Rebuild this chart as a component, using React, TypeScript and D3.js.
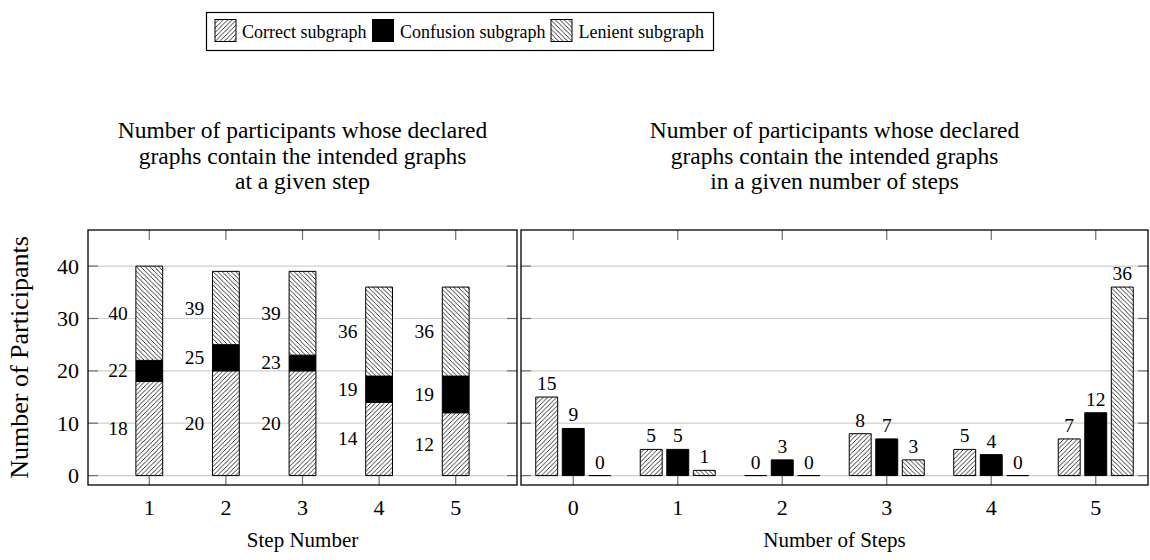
import * as d3 from 'd3';

// left panel: stacked counts per step
const steps = [1, 2, 3, 4, 5];
const stepCorrect = [18, 20, 20, 14, 12];
const stepConfusion = [4, 5, 3, 5, 7];
const stepLenient = [18, 14, 16, 17, 17];

// right panel: grouped counts per number of steps
const numSteps = [0, 1, 2, 3, 4, 5];
const numCorrect = [15, 5, 0, 8, 5, 7];
const numConfusion = [9, 5, 3, 7, 4, 12];
const numLenient = [0, 1, 0, 3, 0, 36];

const yTicks = [0, 10, 20, 30, 40];
const seriesNames = ['Correct subgraph', 'Confusion subgraph', 'Lenient subgraph'];
const leftTitle = [
  'Number of participants whose declared',
  'graphs contain the intended graphs',
  'at a given step',
];
const rightTitle = [
  'Number of participants whose declared',
  'graphs contain the intended graphs',
  'in a given number of steps',
];

const FONT = "'Liberation Serif', 'Times New Roman', serif";
const FILLS = ['url(#hatchNE)', '#000', 'url(#hatchNW)'];
const GRID = '#cfcfcf';
const TICK = '#6e6e6e';

const TOP = 230;
const BOTTOM = 485;
const L = { x0: 88, x1: 517 };
const R = { x0: 521, x1: 1148 };

const y = d3.scaleLinear().domain([-1.8, 46.9]).range([BOTTOM, TOP]);
const xL = d3.scaleLinear().domain([0.2, 5.8]).range([L.x0, L.x1]);
const xR = d3.scaleLinear().domain([-0.5, 5.5]).range([R.x0, R.x1]);

function barPath(xa: number, xb: number, ya: number, yb: number) {
  return `M${xa},${ya}H${xb}V${yb}H${xa}Z`;
}

function Frame({ x0, x1, xs, xScale }: { x0: number; x1: number; xs: number[]; xScale: d3.ScaleLinear<number, number> }) {
  return (
    <g>
      {yTicks.map((t) => (
        <g key={t}>
          <line x1={x0} x2={x1} y1={y(t)} y2={y(t)} stroke={GRID} strokeWidth={1.2} />
          <line x1={x0} x2={x0 + 10} y1={y(t)} y2={y(t)} stroke={TICK} strokeWidth={1.2} />
          <line x1={x1} x2={x1 - 10} y1={y(t)} y2={y(t)} stroke={TICK} strokeWidth={1.2} />
        </g>
      ))}
      {xs.map((v) => (
        <g key={v}>
          <line x1={xScale(v)} x2={xScale(v)} y1={TOP} y2={TOP + 10} stroke={TICK} strokeWidth={1.2} />
          <line x1={xScale(v)} x2={xScale(v)} y1={BOTTOM} y2={BOTTOM - 10} stroke={TICK} strokeWidth={1.2} />
          <text x={xScale(v)} y={515} textAnchor="middle" fontSize={22}>{v}</text>
        </g>
      ))}
    </g>
  );
}

function FrameBorder({ x0, x1 }: { x0: number; x1: number }) {
  return <rect x={x0} y={TOP} width={x1 - x0} height={BOTTOM - TOP} fill="none" stroke="#000" strokeWidth={1.3} />;
}

export default function App() {
  const stackRows = steps.map((s, i) => ({ step: s, c: stepCorrect[i], f: stepConfusion[i], l: stepLenient[i] }));
  const stacked = d3.stack<any>().keys(['c', 'f', 'l'])(stackRows);
  const bwL = xL(0.35) - xL(0);

  const groups = [numCorrect, numConfusion, numLenient];
  const bwR = xR(0.21) - xR(0);
  const offR = xR(0.254) - xR(0);

  const legendPatch = [215, 372.5, 551];
  const legendText = [242, 400, 578.5];

  return (
    <div style={{ position: 'absolute', left: 0, top: 0 }}>
      <svg width={1150} height={560} style={{ display: 'block', fontFamily: FONT }}>
        <defs>
          <pattern id="hatchNE" patternUnits="userSpaceOnUse" width={4.5} height={4.5}>
            <rect width={4.5} height={4.5} fill="#fff" />
            <path d="M0,4.5L4.5,0M-1,1L1,-1M3.5,5.5L5.5,3.5" stroke="#000" strokeWidth={0.8} />
          </pattern>
          <pattern id="hatchNW" patternUnits="userSpaceOnUse" width={4.5} height={4.5}>
            <rect width={4.5} height={4.5} fill="#fff" />
            <path d="M0,0L4.5,4.5M-1,3.5L1,5.5M3.5,-1L5.5,1" stroke="#000" strokeWidth={0.8} />
          </pattern>
        </defs>

        {/* legend */}
        <rect x={206.5} y={12.5} width={507} height={38} fill="#fff" stroke="#000" strokeWidth={1.2} />
        {seriesNames.map((name, i) => (
          <g key={name}>
            <rect x={legendPatch[i]} y={19.5} width={21} height={22} fill={FILLS[i]} stroke="#000" strokeWidth={1} />
            <text x={legendText[i]} y={38} fontSize={18}>{name}</text>
          </g>
        ))}

        {/* titles */}
        {leftTitle.map((t, i) => (
          <text key={'l' + i} x={(L.x0 + L.x1) / 2} y={138 + i * 25.5} textAnchor="middle" fontSize={23.5}>{t}</text>
        ))}
        {rightTitle.map((t, i) => (
          <text key={'r' + i} x={(R.x0 + R.x1) / 2} y={138 + i * 25.5} textAnchor="middle" fontSize={23.5}>{t}</text>
        ))}

        <Frame x0={L.x0} x1={L.x1} xs={steps} xScale={xL} />
        <Frame x0={R.x0} x1={R.x1} xs={numSteps} xScale={xR} />

        {/* y tick labels */}
        {yTicks.map((t) => (
          <text key={t} x={79} y={y(t) + 7.5} textAnchor="end" fontSize={22}>{t}</text>
        ))}
        <text transform={`translate(28,${(TOP + BOTTOM) / 2}) rotate(-90)`} textAnchor="middle" fontSize={26}>
          Number of Participants
        </text>

        {/* left stacked bars */}
        {stacked.map((layer, si) => (
          <g key={si}>
            {layer.map((d, i) => {
              const cx = xL(steps[i]);
              return (
                <g key={i}>
                  <path d={barPath(cx - bwL / 2, cx + bwL / 2, y(d[0]), y(d[1]))} fill={FILLS[si]} stroke="#000" strokeWidth={1} />
                  <text x={xL(steps[i] - 0.41)} y={y((d[0] + d[1]) / 2) + 6.5} textAnchor="middle" fontSize={19.5}>
                    {d[1]}
                  </text>
                </g>
              );
            })}
          </g>
        ))}

        {/* right grouped bars */}
        {groups.map((vals, si) => (
          <g key={si}>
            {vals.map((v, i) => {
              const cx = xR(numSteps[i]) + (si - 1) * offR;
              return (
                <g key={i}>
                  <path d={barPath(cx - bwR / 2, cx + bwR / 2, y(0), y(v))} fill={FILLS[si]} stroke="#000" strokeWidth={1} />
                  <text x={cx} y={y(v) - 7} textAnchor="middle" fontSize={19.5}>{v}</text>
                </g>
              );
            })}
          </g>
        ))}

        <FrameBorder x0={L.x0} x1={L.x1} />
        <FrameBorder x0={R.x0} x1={R.x1} />

        <text x={(L.x0 + L.x1) / 2} y={547} textAnchor="middle" fontSize={21}>Step Number</text>
        <text x={(R.x0 + R.x1) / 2} y={547} textAnchor="middle" fontSize={21}>Number of Steps</text>
      </svg>
    </div>
  );
}
